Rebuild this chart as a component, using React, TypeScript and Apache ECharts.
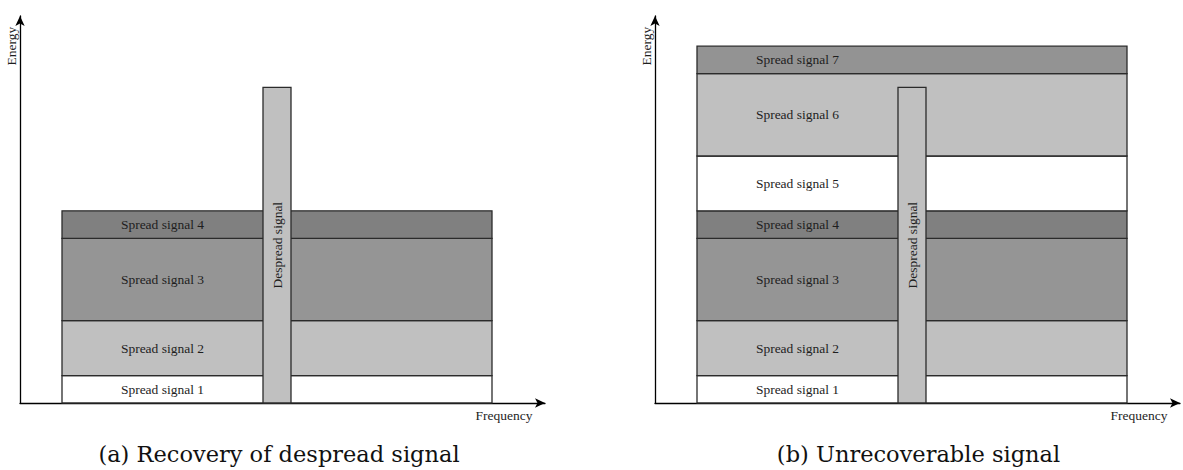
import React, { useEffect, useRef } from "react";
import * as echarts from "echarts";

// ---- data ----
const bandNamesA = ["Spread signal 1", "Spread signal 2", "Spread signal 3", "Spread signal 4"];
const bandEnergyA = [1, 2, 3, 1];
const bandNamesB = [
  "Spread signal 1",
  "Spread signal 2",
  "Spread signal 3",
  "Spread signal 4",
  "Spread signal 5",
  "Spread signal 6",
  "Spread signal 7",
];
const bandEnergyB = [1, 2, 3, 1, 2, 3, 1];
const spreadFrequency = [4.2, 47.2];
const despreadFrequency = [24.3, 27.1];
const despreadEnergy = 11.5;
const despreadName = "Despread signal";
const captions = ["(a) Recovery of despread signal", "(b) Unrecoverable signal"];
const axisNames = ["Frequency", "Energy"];
const frequencyMax = 52.5;
const energyMax = 14.1;

// ---- styles ----
const bandColors = ["#ffffff", "#c0c0c0", "#959595", "#808080", "#ffffff", "#c0c0c0", "#939393"];
const despreadColor = "#c0c0c0";
const edgeColor = "#2b2b2b";
const textColor = "#1e1e1e";
const smallFont = '13.5px "Liberation Serif"';
const captionFont = '22.5px "DejaVu Serif"';

function buildBands(names: string[], energies: number[]) {
  let base = 0;
  return names.map((name, i) => {
    const item = {
      name,
      value: [
        spreadFrequency[0],
        spreadFrequency[1],
        base,
        base + energies[i],
        (spreadFrequency[0] + despreadFrequency[0]) / 2,
      ],
      itemStyle: { color: bandColors[i] },
    };
    base += energies[i];
    return item;
  });
}

function renderRect(names: string[], rotated: boolean) {
  return (params: any, api: any) => {
    const x0 = api.value(0);
    const x1 = api.value(1);
    const y0 = api.value(2);
    const y1 = api.value(3);
    const lx = api.value(4);
    const tl = api.coord([x0, y1]);
    const br = api.coord([x1, y0]);
    const color = api.visual("color");
    const name = names[params.dataIndex];
    const centerY = (tl[1] + br[1]) / 2;
    const labelPt = api.coord([lx, (y0 + y1) / 2]);
    const children: any[] = [
      {
        type: "rect",
        shape: { x: tl[0], y: tl[1], width: br[0] - tl[0], height: br[1] - tl[1] },
        style: { fill: color, stroke: edgeColor, lineWidth: 1.3 },
      },
    ];
    children.push({
      type: "text",
      x: rotated ? (tl[0] + br[0]) / 2 : labelPt[0],
      y: centerY,
      rotation: rotated ? Math.PI / 2 : 0,
      style: {
        text: name,
        x: 0,
        y: 0,
        align: "center",
        verticalAlign: "middle",
        font: smallFont,
        fill: textColor,
      },
    });
    return { type: "group", children };
  };
}

const axisLine = {
  show: true,
  symbol: ["none", "arrow"],
  symbolSize: [7, 10],
  lineStyle: { color: "#000", width: 1.3 },
};

function makeAxis(kind: "x" | "y", gridIndex: number) {
  return {
    type: "value",
    gridIndex,
    min: 0,
    max: kind === "x" ? frequencyMax : energyMax,
    axisLine,
    axisTick: { show: false },
    axisLabel: { show: false },
    splitLine: { show: false },
  };
}

export default function App() {
  const ref = useRef<HTMLDivElement>(null);
  useEffect(() => {
    if (!ref.current) return;
    const chart = echarts.init(ref.current, undefined, { renderer: "svg" });
    const despreadItem = {
      name: despreadName,
      value: [
        despreadFrequency[0],
        despreadFrequency[1],
        0,
        despreadEnergy,
        (despreadFrequency[0] + despreadFrequency[1]) / 2,
      ],
      itemStyle: { color: despreadColor },
    };
    const panelNames = [bandNamesA, bandNamesB];
    const panels = [buildBands(bandNamesA, bandEnergyA), buildBands(bandNamesB, bandEnergyB)];
    const series: any[] = [];
    panels.forEach((bands, i) => {
      series.push({
        type: "custom",
        xAxisIndex: i,
        yAxisIndex: i,
        renderItem: renderRect(panelNames[i], false),
        encode: { x: [0, 1, 4], y: [2, 3] },
        data: bands,
        z: 2,
      });
      series.push({
        type: "custom",
        xAxisIndex: i,
        yAxisIndex: i,
        renderItem: renderRect([despreadName], true),
        encode: { x: [0, 1, 4], y: [2, 3] },
        data: [despreadItem],
        z: 3,
      });
    });
    const gridLefts = [20, 655];
    const captionCenters = [279, 918.5];
    const graphic: any[] = [];
    gridLefts.forEach((left, i) => {
      graphic.push({
        type: "text",
        x: left - 8.5,
        y: 46,
        rotation: Math.PI / 2,
        style: {
          text: axisNames[1],
          x: 0,
          y: 0,
          align: "center",
          verticalAlign: "middle",
          font: smallFont,
          fill: textColor,
        },
      });
      graphic.push({
        type: "text",
        x: left + 484,
        y: 415,
        style: {
          text: axisNames[0],
          x: 0,
          y: 0,
          align: "center",
          verticalAlign: "middle",
          font: smallFont,
          fill: textColor,
        },
      });
      graphic.push({
        type: "text",
        x: captionCenters[i],
        y: 454,
        style: {
          text: captions[i],
          x: 0,
          y: 0,
          align: "center",
          verticalAlign: "middle",
          font: captionFont,
          fill: "#111",
        },
      });
    });
    chart.setOption({
      animation: false,
      backgroundColor: "#ffffff",
      grid: gridLefts.map((left) => ({ left, top: 16, width: 525, height: 387 })),
      xAxis: [makeAxis("x", 0), makeAxis("x", 1)],
      yAxis: [makeAxis("y", 0), makeAxis("y", 1)],
      series,
      graphic,
    });
    return () => chart.dispose();
  }, []);
  return (
    <div
      ref={ref}
      style={{ position: "fixed", left: 0, top: 0, width: 1183, height: 470 }}
    />
  );
}
